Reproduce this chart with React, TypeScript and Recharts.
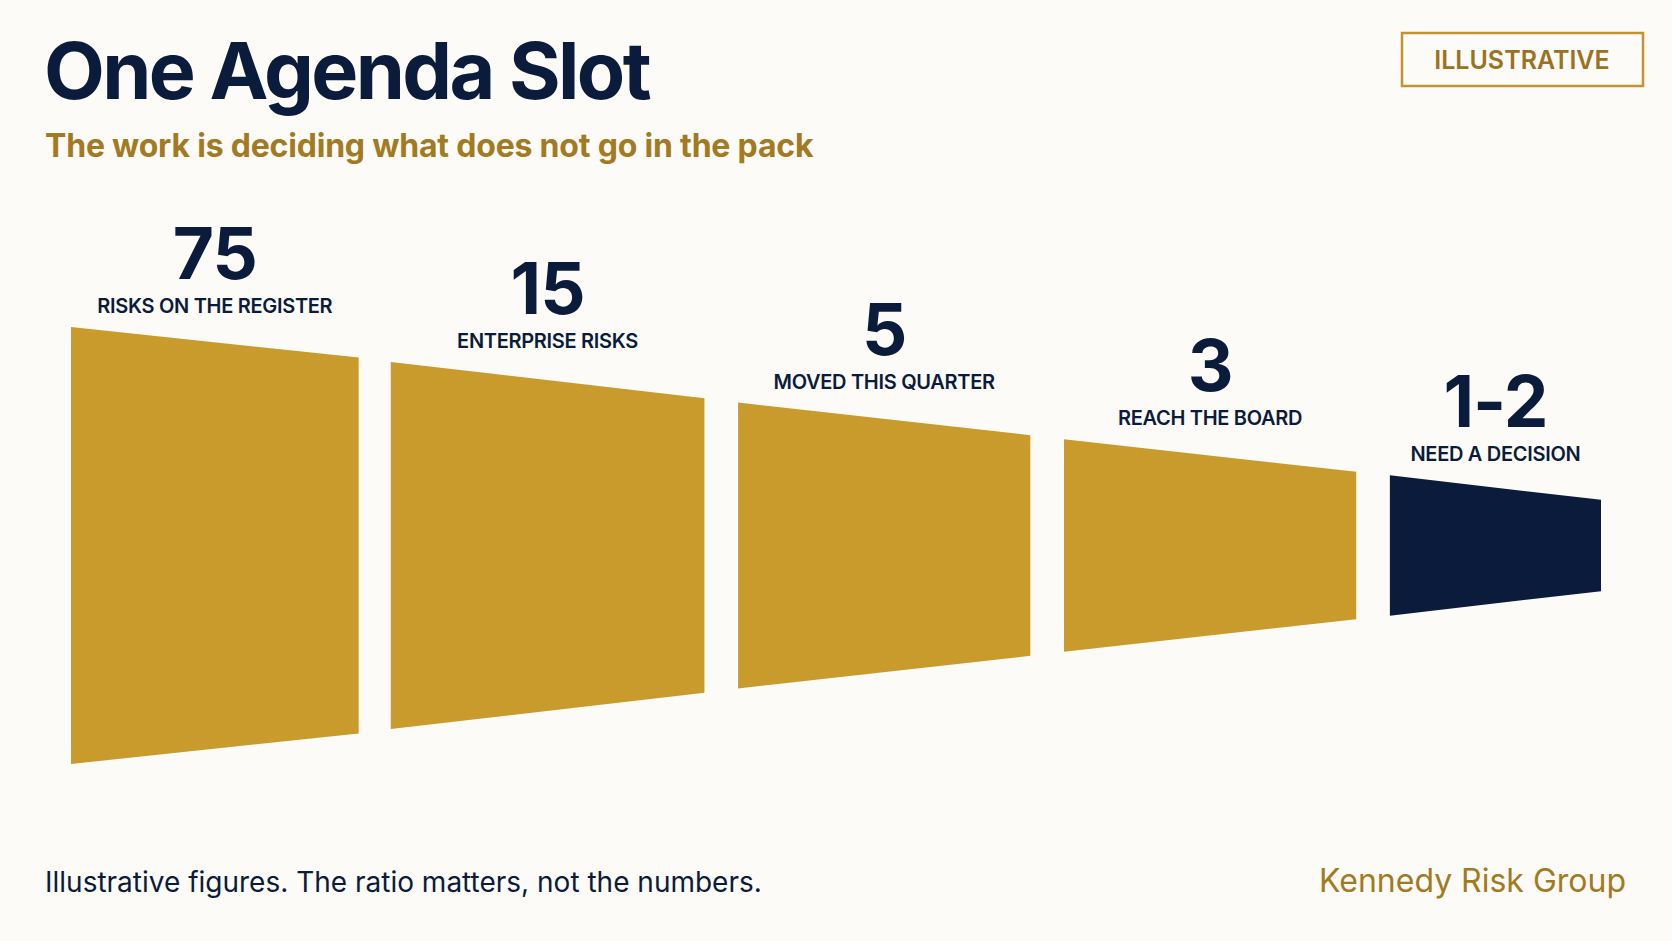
import { ComposedChart, Area, Scatter, XAxis, YAxis } from 'recharts';

/**
 * Horizontal funnel: one agenda slot out of the whole risk register.
 * Each stage is a range area (trapezoid) on a numeric funnel axis.
 */

const STAGES = ['RISKS ON THE REGISTER', 'ENTERPRISE RISKS', 'MOVED THIS QUARTER', 'REACH THE BOARD', 'NEED A DECISION'];
const COUNTS = ['75', '15', '5', '3', '1-2'];

// position along the funnel (0-100) where each stage starts / ends
const STAGE_FROM = [0, 20.9, 43.6, 64.9, 86.2];
const STAGE_TO = [18.8, 41.4, 62.7, 84.0, 100];

// funnel thickness (% of the opening) at each stage edge
const WIDTH_FROM = [100, 84, 65.4, 48.6, 32.1];
const WIDTH_TO = [86, 67.4, 50.5, 33.7, 20.9];

const GOLD = '#C99A2C';
const NAVY = '#0B1B3C';
const GOLD_TEXT = '#A27A22';
const BG = '#FCFBF7';
const FONT = 'Inter, "Noto Sans", sans-serif';

const STAGE_COLORS = [GOLD, GOLD, GOLD, GOLD, NAVY];

const rows = STAGES.flatMap((_, i) => [
  { x: STAGE_FROM[i], [`s${i}`]: [-WIDTH_FROM[i] / 2, WIDTH_FROM[i] / 2] },
  { x: STAGE_TO[i], [`s${i}`]: [-WIDTH_TO[i] / 2, WIDTH_TO[i] / 2] },
]);

const labels = STAGES.map((caption, i) => ({
  x: (STAGE_FROM[i] + STAGE_TO[i]) / 2,
  y: WIDTH_FROM[i] / 2,
  count: COUNTS[i],
  caption,
}));

function StageLabel(props: any) {
  const { cx, cy, payload } = props;
  return (
    <g>
      <text x={cx} y={cy - 48} textAnchor="middle" fontFamily={FONT} fontSize={71} fontWeight={700} fill={NAVY} letterSpacing={-1}>
        {payload.count}
      </text>
      <text x={cx} y={cy - 14} textAnchor="middle" fontFamily={FONT} fontSize={20} fontWeight={600} fill={NAVY} letterSpacing={-0.3}>
        {payload.caption}
      </text>
    </g>
  );
}

export default function App() {
  return (
    <div style={{ position: 'absolute', left: 0, top: 0, width: 1672, height: 941, background: BG, overflow: 'hidden' }}>
      <div style={{ position: 'absolute', left: 0, top: 0 }}>
        <ComposedChart width={1672} height={941} data={rows} margin={{ top: 327, right: 71, bottom: 177, left: 71 }}>
          <XAxis dataKey="x" type="number" domain={[0, 100]} hide />
          <YAxis type="number" domain={[-50, 50]} hide />
          {STAGES.map((_, i) => (
            <Area
              key={i}
              dataKey={`s${i}`}
              type="linear"
              stroke="none"
              fill={STAGE_COLORS[i]}
              fillOpacity={1}
              dot={false}
              activeDot={false}
              isAnimationActive={false}
            />
          ))}
          <Scatter data={labels} dataKey="y" shape={StageLabel} isAnimationActive={false} />
        </ComposedChart>
      </div>

      <svg width={1672} height={941} style={{ position: 'absolute', left: 0, top: 0, pointerEvents: 'none' }}>
        <text x={44} y={99} fontFamily={FONT} fontSize={79} fontWeight={700} fill={NAVY} letterSpacing={-2.6}>
          One Agenda Slot
        </text>
        <text x={45} y={157} fontFamily={FONT} fontSize={32} fontWeight={700} fill={GOLD_TEXT} letterSpacing={-0.2}>
          The work is deciding what does not go in the pack
        </text>
        <rect x={1402} y={33} width={241} height={53} fill="none" stroke="#C39330" strokeWidth={2.5} />
        <text x={1522} y={69} textAnchor="middle" fontFamily={FONT} fontSize={25} fontWeight={600} fill="#9A7221">
          ILLUSTRATIVE
        </text>
        <text x={45} y={892} fontFamily={FONT} fontSize={28} fontWeight={400} fill={NAVY}>
          Illustrative figures. The ratio matters, not the numbers.
        </text>
        <text x={1626} y={892} textAnchor="end" fontFamily={FONT} fontSize={32} fontWeight={400} fill={GOLD_TEXT}>
          Kennedy Risk Group
        </text>
      </svg>
    </div>
  );
}
